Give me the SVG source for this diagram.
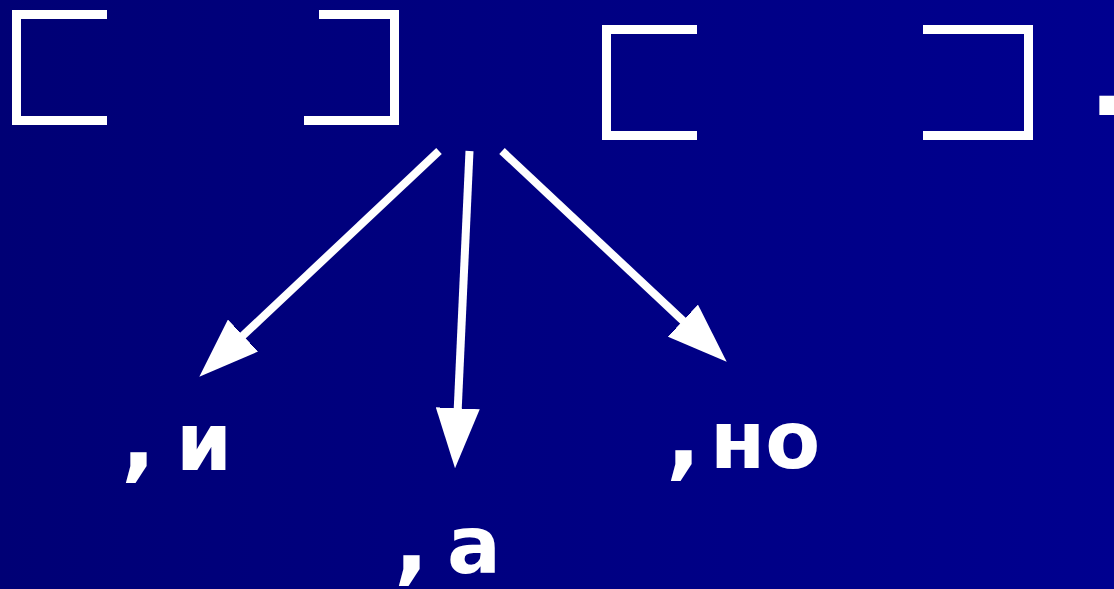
<svg xmlns="http://www.w3.org/2000/svg" width="1114" height="589" viewBox="0 0 1114 589">
  <defs>
    <linearGradient id="bg" x1="0" y1="0" x2="1" y2="0">
      <stop offset="0" stop-color="#000075"/>
      <stop offset="1" stop-color="#00008F"/>
    </linearGradient>
    <marker id="head" markerUnits="userSpaceOnUse" markerWidth="60" markerHeight="44" viewBox="0 0 60 44" refX="10" refY="22" orient="auto">
      <path d="M0,0 L60,22 L0,44 z" fill="#FFFFFF"/>
    </marker>
    <style>
      .br { fill: none; stroke: #FFFFFF; stroke-width: 9; stroke-linejoin: miter; stroke-linecap: butt; }
      .conn { fill: none; stroke: #FFFFFF; stroke-width: 8; stroke-linecap: butt; marker-end: url(#head); }
      .lbl { font-family: "DejaVu Sans", Verdana, sans-serif; font-weight: bold; font-size: 80px; fill: #FFFFFF; }
      .cm { font-size: 92px; }
    </style>
  </defs>
  <rect x="0" y="0" width="1114" height="589" fill="url(#bg)"/>

  <g id="clause1">
    <path class="br" d="M107,14.5 H16.5 V120.5 H107"/>
    <path class="br" d="M319,14.5 H394.5 V120.5 H304"/>
  </g>
  <g id="clause2">
    <path class="br" d="M697,29.5 H606.5 V135.5 H697"/>
    <path class="br" d="M923,29.5 H1028.5 V135.5 H923"/>
  </g>
  <g id="period">
    <text class="lbl" x="1089" y="115" style="font-size:102px">.</text>
  </g>

  <g id="connectors">
    <line class="conn" x1="439" y1="151" x2="235.7" y2="342.4"/>
    <line class="conn" x1="469.5" y1="151" x2="457.3" y2="418.3"/>
    <line class="conn" x1="502" y1="151" x2="690.2" y2="327.5"/>
  </g>

  <g id="label-i">
    <text class="lbl" y="470"><tspan class="cm" x="121">,</tspan><tspan x="176">и</tspan></text>
  </g>
  <g id="label-a">
    <text class="lbl" y="573"><tspan class="cm" x="394">,</tspan><tspan x="447">а</tspan></text>
  </g>
  <g id="label-no">
    <text class="lbl" y="468"><tspan class="cm" x="666">,</tspan><tspan x="710">но</tspan></text>
  </g>
</svg>
